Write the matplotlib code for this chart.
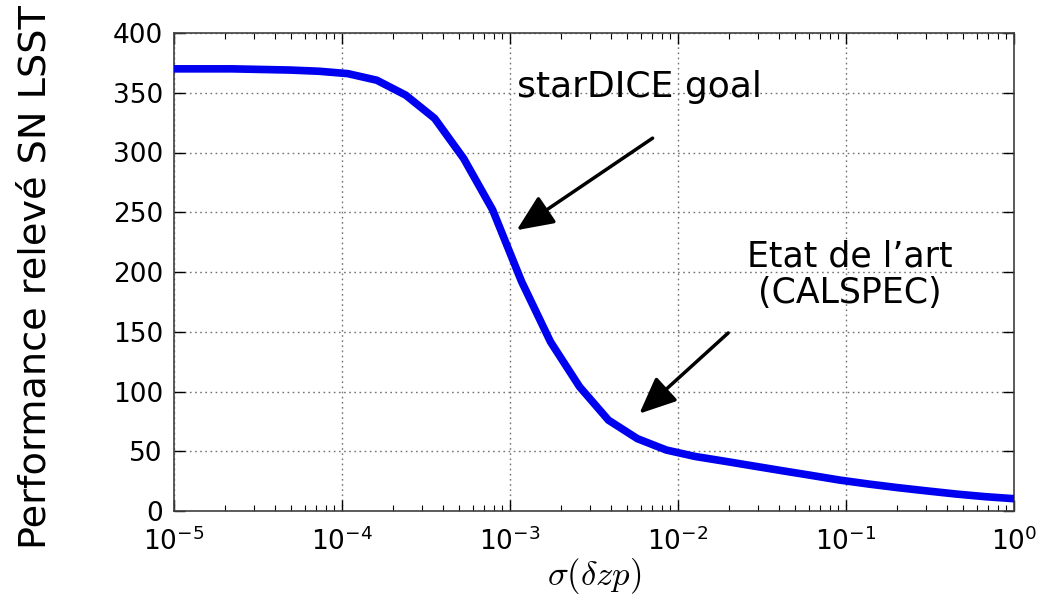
import matplotlib
matplotlib.use("Agg")
import matplotlib.pyplot as plt

# --- data ---
sigma_dzp = [1.000e-5, 1.487e-5, 2.212e-5, 3.290e-5, 4.894e-5, 7.279e-5,
             1.083e-4, 1.610e-4, 2.395e-4, 3.562e-4, 5.298e-4, 7.880e-4,
             1.172e-3, 1.743e-3, 2.593e-3, 3.857e-3, 5.736e-3, 8.532e-3,
             1.269e-2, 1.887e-2, 2.807e-2, 4.175e-2, 6.210e-2, 9.237e-2,
             1.374e-1, 2.043e-1, 3.039e-1, 4.520e-1, 6.723e-1, 1.000e0]
performance = [370.0, 370.0, 370.0, 369.5, 369.0, 368.0,
               366.0, 360.5, 348.0, 328.5, 295.0, 252.0,
               192.0, 141.5, 104.0, 76.0, 60.5, 51.0,
               45.6, 41.7, 37.7, 33.7, 29.8, 25.8,
               22.5, 19.5, 16.8, 14.2, 12.0, 10.3]

yticks = [0, 50, 100, 150, 200, 250, 300, 350, 400]

ann_goal_text = "starDICE goal"
ann_goal_xy = (1.096e-3, 235)
ann_goal_xytext = (7.06e-3, 312)
ann_goal_textpos = (5.9e-3, 355)

ann_art_text = "Etat de l\u2019art\n(CALSPEC)"
ann_art_xy = (5.89e-3, 81.5)
ann_art_xytext = (1.99e-2, 149)
ann_art_textpos = (1.05e-1, 198)

plt.rcParams['font.family'] = ['DejaVu Sans']
plt.rcParams['mathtext.fontset'] = 'dejavusans'

fig = plt.figure(figsize=(10.51, 5.97), dpi=100)
ax = fig.add_axes([174/1051, 1-511/597, 840/1051, 478/597])

ax.plot(sigma_dzp, performance, color='#0000f0', lw=5.5, solid_capstyle='butt', zorder=3)

ax.set_xscale('log')
ax.set_xlim(1e-5, 1e0)
ax.set_ylim(0, 400)
ax.set_yticks(yticks)

ax.grid(True, which='major', linestyle=(0, (1.2, 2.5)), color='0.45', lw=1.0)
ax.tick_params(which='both', direction='in', top=True, right=True, labelsize=19)
ax.tick_params(axis='x', pad=12)
ax.tick_params(axis='y', pad=8)
ax.tick_params(which='major', length=8, width=1)
ax.tick_params(which='minor', length=4, width=0.8)
for s in ax.spines.values():
    s.set_color('0.25')
    s.set_linewidth(1.2)

ax.set_xlabel(r'$\sigma(\delta zp)$', fontsize=25, math_fontfamily='cm', labelpad=0)
ax.set_ylabel('Performance relevé SN LSST', fontsize=27.5)
ax.yaxis.label.set_va('center')
ax.yaxis.set_label_coords(-0.165, 0.49)

arrow = dict(arrowstyle='-|>,head_length=0.75,head_width=0.33', color='k', lw=2.5,
             mutation_scale=30, shrinkA=0, shrinkB=0)
ax.annotate('', xy=ann_goal_xy, xytext=ann_goal_xytext, arrowprops=arrow, zorder=4)
ax.text(*ann_goal_textpos, ann_goal_text, fontsize=26, ha='center', va='center', zorder=4)

ax.annotate('', xy=ann_art_xy, xytext=ann_art_xytext, arrowprops=arrow, zorder=4)
ax.text(*ann_art_textpos, ann_art_text, fontsize=25, ha='center', va='center',
        linespacing=1.1, zorder=4)

fig.savefig('out.png', dpi=100)
